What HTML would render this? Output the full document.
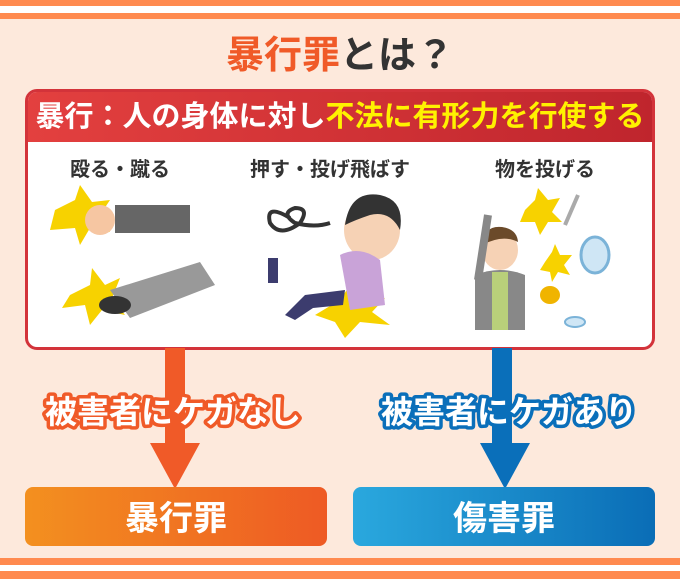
<!DOCTYPE html>
<html><head><meta charset="utf-8"><style>
body{margin:0;width:680px;height:579px;background:#fde9dc;position:relative;overflow:hidden;font-family:"Liberation Sans","Noto Sans CJK JP",sans-serif;font-weight:bold}
.a{position:absolute}
.t{white-space:nowrap;text-align:center}
</style></head><body>
<div class="a" style="left:0;top:0;width:680px;height:6px;background:#ff8a4f"></div>
<div class="a" style="left:0;top:6px;width:680px;height:7px;background:#fff"></div>
<div class="a" style="left:0;top:13px;width:680px;height:6px;background:#ff8a4f"></div>
<div class="a t" style="left:0;top:34px;width:680px;font-size:38px;line-height:44px;color:#333"><span style="color:#f05a28">暴行罪</span>とは？</div>
<div class="a" style="left:25px;top:89px;width:624px;height:255px;border:3px solid #d3333a;border-radius:12px;background:#fff;overflow:hidden">
<div style="height:50px;background:linear-gradient(90deg,#e3403f,#bf252d);color:#fff;font-size:29px;line-height:50px;text-align:center;white-space:nowrap">暴行：人の身体に対し<span style="color:#fff200">不法に有形力を行使する</span></div>
</div>
<div class="a t" style="left:20px;top:153px;width:200px;font-size:20px;color:#333">殴る・蹴る</div>
<div class="a t" style="left:230px;top:153px;width:200px;font-size:20px;color:#333">押す・投げ飛ばす</div>
<div class="a t" style="left:445px;top:153px;width:200px;font-size:20px;color:#333">物を投げる</div>
<svg class="a" style="left:0;top:0" width="680" height="579">
<polygon points="55,210 75,200 80,185 92,202 110,200 100,215 110,232 90,228 80,245 75,228 50,230" fill="#f7d200"/>
<rect x="115" y="205" width="75" height="28" fill="#666"/>
<circle cx="100" cy="220" r="15" fill="#f6c6a2"/>
<polygon points="70,295 90,285 92,268 105,285 120,278 112,298 125,315 102,310 90,325 85,305 62,308" fill="#f7d200"/>
<polygon points="110,290 200,262 215,285 130,318" fill="#999"/>
<ellipse cx="115" cy="305" rx="16" ry="9" fill="#333"/>
<path d="M290,218 q-25,-15 -20,5 q10,15 30,0 q10,-15 -5,-15 q-15,5 0,15 q20,5 35,0" stroke="#333" stroke-width="4" fill="none"/>
<polygon points="315,315 340,300 350,285 362,300 385,298 372,312 390,325 360,322 345,338 335,322" fill="#f7d200"/>
<ellipse cx="372" cy="230" rx="28" ry="30" fill="#f6d2b5"/>
<path d="M345,225 q5,-35 35,-30 q25,5 20,35 q-10,-20 -30,-15 q-15,5 -25,10z" fill="#333"/>
<path d="M340,255 q20,-10 40,5 l5,45 l-35,5z" fill="#c9a3d8"/>
<path d="M345,290 l-40,5 l-20,20 l10,5 l18,-12 l30,-3z" fill="#3c3c6e"/>
<rect x="268" y="258" width="10" height="25" fill="#3c3c6e"/>
<polygon points="525,210 535,200 538,188 548,200 560,198 552,212 562,222 548,222 540,235 535,222 520,222" fill="#f7d200"/>
<polygon points="545,262 552,252 555,244 560,255 572,255 564,265 570,275 558,272 552,282 550,272 540,270" fill="#f7d200"/>
<ellipse cx="500" cy="250" rx="18" ry="20" fill="#f6d2b5"/>
<path d="M482,245 q2,-20 20,-18 q15,2 16,15 q-15,-8 -36,3z" fill="#6b4a2a"/>
<path d="M475,275 q25,-10 50,0 l0,55 l-50,0z" fill="#888"/>
<rect x="492" y="272" width="16" height="58" fill="#b9cf7a"/>
<line x1="478" y1="280" x2="488" y2="215" stroke="#888" stroke-width="8"/>
<ellipse cx="595" cy="255" rx="14" ry="18" fill="#cfe6f5" stroke="#7bb3d8" stroke-width="3"/>
<ellipse cx="550" cy="295" rx="10" ry="9" fill="#f0b400"/>
<ellipse cx="575" cy="322" rx="10" ry="5" fill="#cfe6f5" stroke="#7bb3d8" stroke-width="2"/>
<line x1="565" y1="225" x2="578" y2="195" stroke="#aaa" stroke-width="4"/>
<rect x="165" y="348" width="20" height="100" fill="#f05a28"/>
<polygon points="150,443 200,443 175,489" fill="#f05a28"/>
<rect x="492" y="348" width="20" height="100" fill="#0a6fba"/>
<polygon points="480,443 530,443 505,489" fill="#0a6fba"/>
<defs>
<linearGradient id="g1"><stop offset="0" stop-color="#f3901f"/><stop offset="1" stop-color="#ee5a24"/></linearGradient>
<linearGradient id="g2"><stop offset="0" stop-color="#2aa8de"/><stop offset="1" stop-color="#0a6db6"/></linearGradient>
</defs>
<rect x="25" y="487" width="302" height="59" rx="8" fill="url(#g1)"/>
<rect x="353" y="487" width="302" height="59" rx="8" fill="url(#g2)"/>
<g font-family="Liberation Sans,Noto Sans CJK JP,sans-serif" font-weight="bold" font-size="32" text-anchor="middle">
<text x="173" y="423" fill="#fff" stroke="#f05a28" stroke-width="7" stroke-linejoin="round" paint-order="stroke">被害者にケガなし</text>
<text x="509" y="423" fill="#fff" stroke="#0a6fba" stroke-width="7" stroke-linejoin="round" paint-order="stroke">被害者にケガあり</text>
<text x="176" y="530" fill="#fff" font-size="34">暴行罪</text>
<text x="504" y="530" fill="#fff" font-size="34">傷害罪</text>
</g>
</svg>
<div class="a" style="left:0;top:558px;width:680px;height:7px;background:#ff8a4f"></div>
<div class="a" style="left:0;top:565px;width:680px;height:6px;background:#fff"></div>
<div class="a" style="left:0;top:571px;width:680px;height:8px;background:#ff8a4f"></div>
</body></html>
